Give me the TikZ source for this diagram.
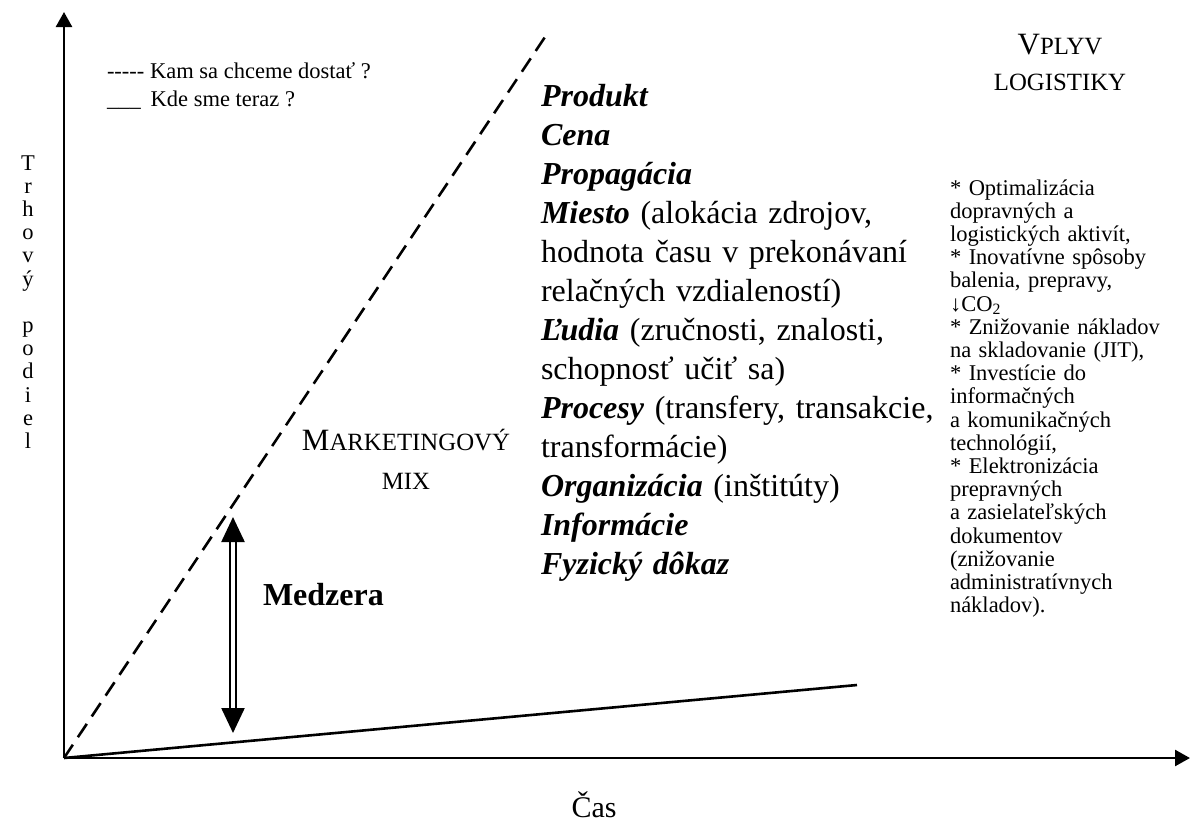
\documentclass[tikz,border=0pt]{standalone}
\usepackage{fontspec}
\setmainfont{Liberation Serif}
\usetikzlibrary{arrows.meta,calc}
% synthetic small caps: full-size initials, reduced capitals
\newcommand{\scbig}[1]{{\fontsize{31}{37}\selectfont #1}}
\newcommand{\scsmall}[1]{{\fontsize{24.8}{37}\selectfont #1}}
\newcommand{\mixkey}[1]{\textbf{\textit{#1}}}

\begin{document}
\begin{tikzpicture}[x=1pt,y=-1pt,
  axis/.style={line width=2.5pt,-{Triangle[width=16pt,length=15pt]}},
  nowline/.style={line width=2.6pt},
  goalline/.style={line width=2.6pt,dash pattern=on 16pt off 9pt},
  gaparrow/.style={line width=2.4pt,double distance=3.5pt,
    {Triangle[width=23pt,length=25pt]}-{Triangle[width=23pt,length=25pt]}},
  txt/.style={inner sep=0pt,outer sep=0pt},
  small/.style={font=\fontsize{22.5}{23.2}\selectfont},
]
\useasboundingbox (0,0) rectangle (1192,823);

% axes and the two trend lines
\coordinate (O) at (64,758);
\coordinate (ytip) at (64,12);
\coordinate (xtip) at (1190,758);
\coordinate (goalend) at (545,37);
\coordinate (nowend) at (857,685);
\coordinate (gtop) at (233,517);
\coordinate (gbot) at (233,733);

\draw[axis] (O) -- (ytip);
\draw[axis] (O) -- (xtip);
\draw[goalline] (O) -- (goalend);
\draw[nowline] (O) -- (nowend);
\draw[gaparrow] (gtop) -- (gbot);

% legend
\node[txt,small,anchor=base west] (leg1) at (107,78)
  {-{}-{}-{}-{}- Kam sa chceme dostať ?};
\node[txt,small,anchor=base west] (leg2) at (107,106)
  {\_\_\_\hspace{10pt}Kde sme teraz ?};

% axis titles
\node[txt,small,anchor=north,text width=30pt,align=center] (ylab) at (28,153.8)
  {\strut T\\r\\h\\o\\v\\ý\\\strut\\p\\o\\d\\i\\e\\l};
\node[txt,anchor=base,font=\fontsize{30}{36}\selectfont] (cas) at (594,817) {Čas};

% gap label
\node[txt,anchor=base west,font=\fontsize{32}{38}\selectfont\bfseries] (gaplab) at (263,605) {Medzera};

% marketing mix heading and list
\node[txt,anchor=base] (mixa) at (406,450) {\scbig{M}\scsmall{ARKETINGOVÝ}};
\node[txt,anchor=base] (mixb) at (406,489) {\scsmall{MIX}};

\node[txt,anchor=north west,text width=430pt,align=left,font=\fontsize{32}{39}\selectfont] (mixlist) at (541,78.7)
  {\strut\mixkey{Produkt}\\
   \mixkey{Cena}\\
   \mixkey{Propagácia}\\
   \mixkey{Miesto} (alokácia zdrojov,\\
   hodnota času v prekonávaní\\
   relačných vzdialeností)\\
   \mixkey{Ľudia} (zručnosti, znalosti,\\
   schopnosť učiť sa)\\
   \mixkey{Procesy} (transfery, transakcie,\\
   transformácie)\\
   \mixkey{Organizácia} (inštitúty)\\
   \mixkey{Informácie}\\
   \mixkey{Fyzický dôkaz}};

% logistics column
\node[txt,anchor=base] (vplyv) at (1060,54) {\scbig{V}\scsmall{PLYV}};
\node[txt,anchor=base] (logt) at (1060,90) {\scsmall{LOGISTIKY}};

\node[txt,small,anchor=north west,text width=240pt,align=left] (logi) at (950,178.8)
  {\strut{*} Optimalizácia\\
   dopravných a\\
   logistických aktivít,\\
   {*} Inovatívne spôsoby\\
   balenia, prepravy,\\
   ↓CO\textsubscript{2}\\
   {*} Znižovanie nákladov\\
   na skladovanie (JIT),\\
   {*} Investície do\\
   informačných\\
   a komunikačných\\
   technológií,\\
   {*} Elektronizácia\\
   prepravných\\
   a zasielateľských\\
   dokumentov\\
   (znižovanie\\
   administratívnych\\
   nákladov).};
\end{tikzpicture}
\end{document}
